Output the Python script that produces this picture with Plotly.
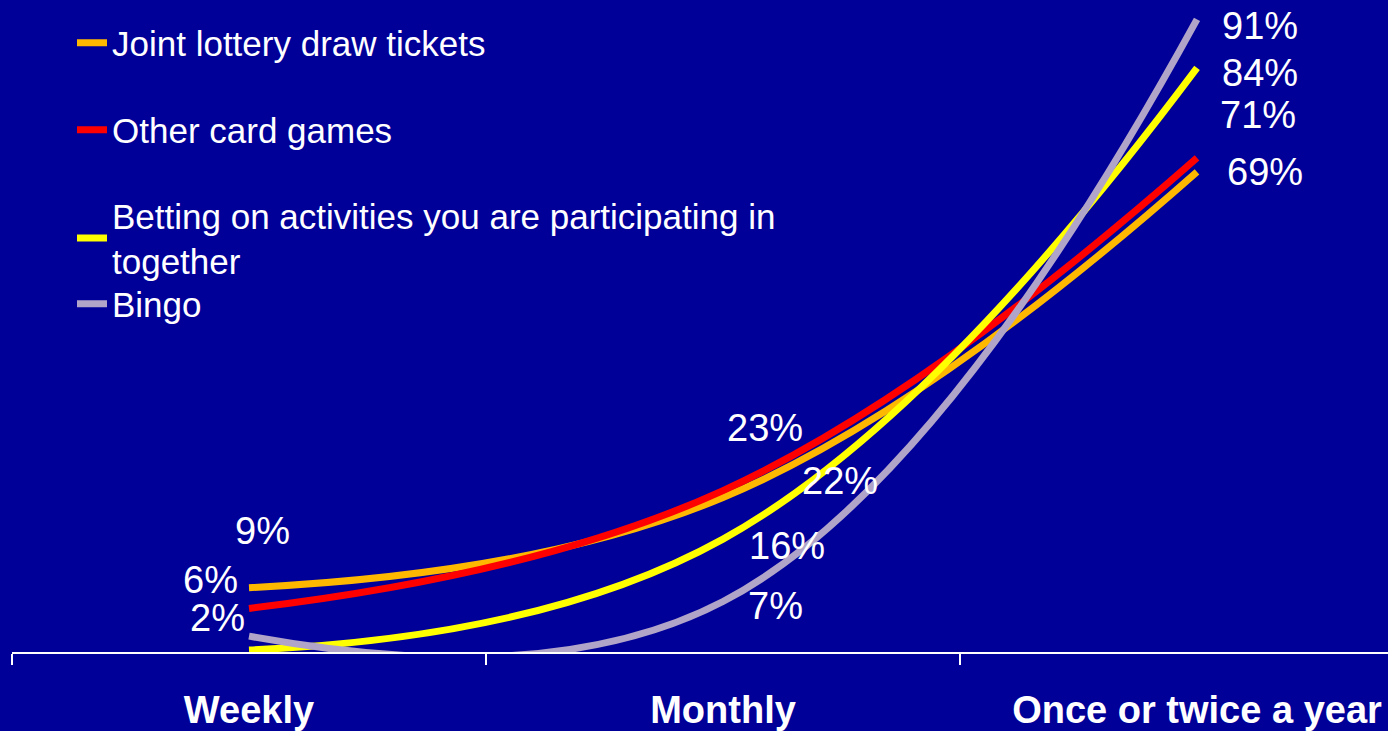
import plotly.graph_objects as go

categories = ["Weekly", "Monthly", "Once or twice a year"]
series_names = [
    "Joint lottery draw tickets",
    "Other card games",
    "Betting on activities you are participating in<br>together",
    "Bingo",
]
joint_lottery = [9, 22, 69]
other_cards = [6, 23, 71]
betting = [0, 16, 84]
bingo = [2, 7, 91]
series_values = [joint_lottery, other_cards, betting, bingo]
colors = ["#FFB800", "#FF0000", "#FFFF00", "#B0A4C8"]

# which labels are displayed (None = hidden) and their offsets (px) from the point
label_shifts = [
    [(13, 57), (117, 17), (68, 0)],
    [(-39, 28), (42, 63), (61, 43)],
    [None, (64, -7), (63, -5)],
    [(-32, 18), (52, -5), (63, -7)],
]

W, H = 1388, 731
ML, MB = 12, 79
FONT = "Arial, Liberation Sans, sans-serif"
BG = "#000099"

fig = go.Figure()
legend_centers = [43, 130, 238, 304]
plot_h = H - MB
for i, (name, vals, col) in enumerate(zip(series_names, series_values, colors)):
    lname = "legend" if i == 0 else f"legend{i+1}"
    fig.add_trace(go.Scatter(
        x=categories, y=vals, name=name, mode="lines",
        line=dict(color=col, width=7, shape="spline", smoothing=1.2),
        legend=lname, hoverinfo="skip",
    ))
    for j, v in enumerate(vals):
        s = label_shifts[i][j]
        if s is None:
            continue
        fig.add_annotation(
            x=categories[j], y=v, text=f"{v}%", showarrow=False,
            xshift=s[0], yshift=s[1],
            font=dict(family=FONT, size=38, color="white"),
        )

legends = {}
for i, c in enumerate(legend_centers):
    key = "legend" if i == 0 else f"legend{i+1}"
    legends[key] = dict(
        x=(72 - ML) / (W - ML), xanchor="left",
        y=1 - c / plot_h, yanchor="middle",
        bgcolor="rgba(0,0,0,0)", borderwidth=0,
        font=dict(family=FONT, size=35, color="white"),
    )

fig.update_layout(
    width=W, height=H,
    margin=dict(l=ML, r=0, t=0, b=MB),
    paper_bgcolor=BG, plot_bgcolor=BG,
    showlegend=True,
    **legends,
    xaxis=dict(
        type="category", range=[-0.5, -0.5 + (W - ML) / 474],
        showgrid=False, zeroline=False,
        showline=True, linecolor="white", linewidth=2,
        ticks="outside", tickson="boundaries", ticklen=11, tickwidth=2, tickcolor="white",
        tickfont=dict(family=FONT, size=38, color="white", weight="bold"),
        ticklabelstandoff=23,
    ),
    yaxis=dict(
        range=[-2 / 6.93, (plot_h - 2) / 6.93],
        visible=False, showgrid=False, zeroline=False,
    ),
)

fig.write_html(
    "out.html",
    config={"displayModeBar": False},
    post_script="document.body.style.margin='0';document.body.style.background='%s';" % BG,
)
